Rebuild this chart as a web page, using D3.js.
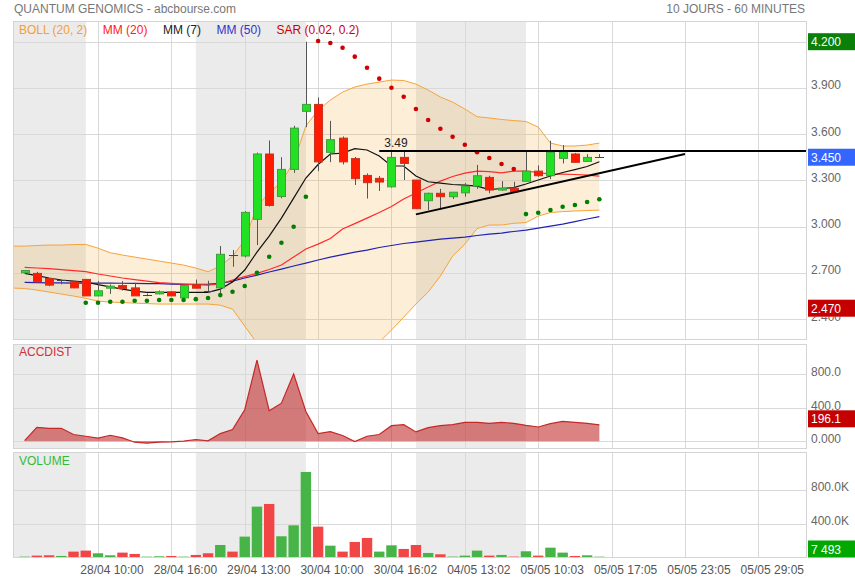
<!DOCTYPE html>
<html><head><meta charset="utf-8">
<script src="https://cdn.jsdelivr.net/npm/d3@7"></script>
<style>body{margin:0;background:#fff;}svg{display:block;}</style>
</head><body><svg id="c" width="855" height="580"></svg>
<script>
// ---------- DATA ----------
const OPEN  = [2.700,2.696,2.663,2.650,2.641,2.657,2.550,2.600,2.617,2.602,2.554,2.563,2.576,2.537,2.624,2.583,2.602,2.813,2.809,3.047,3.471,3.195,3.371,3.748,3.793,3.482,3.574,3.441,3.332,3.313,3.258,3.449,3.302,3.168,3.216,3.194,3.219,3.263,3.319,3.237,3.248,3.294,3.360,3.330,3.443,3.471,3.423,3.450];
const HIGH  = [2.718,2.706,2.665,2.657,2.645,2.660,2.646,2.624,2.646,2.635,2.565,2.585,2.578,2.618,2.656,2.648,2.874,2.848,3.100,3.480,3.559,3.450,3.654,4.200,3.838,3.686,3.585,3.452,3.345,3.328,3.490,3.490,3.302,3.220,3.245,3.225,3.282,3.400,3.330,3.295,3.291,3.486,3.397,3.557,3.529,3.478,3.470,3.470];
const LOW   = [2.695,2.635,2.613,2.625,2.600,2.550,2.548,2.563,2.585,2.550,2.548,2.560,2.548,2.535,2.598,2.568,2.559,2.739,2.800,2.880,3.130,3.184,3.349,3.645,3.360,3.418,3.403,3.270,3.182,3.231,3.253,3.302,3.116,3.107,3.110,3.179,3.194,3.245,3.216,3.232,3.226,3.294,3.323,3.308,3.410,3.417,3.420,3.450];
const CLOSE = [2.715,2.641,2.620,2.650,2.602,2.550,2.583,2.613,2.598,2.550,2.554,2.576,2.550,2.617,2.600,2.583,2.820,2.813,3.092,3.471,3.137,3.371,3.639,3.793,3.420,3.564,3.420,3.311,3.285,3.289,3.449,3.410,3.116,3.216,3.194,3.223,3.263,3.330,3.237,3.250,3.226,3.360,3.330,3.482,3.486,3.417,3.449,3.450];
const VOLUME = [8000,20000,24000,16000,68000,80000,48000,24000,56000,40000,8000,12000,16000,8000,28000,48000,147000,68000,247000,605000,637000,251000,382000,1019000,366000,139000,68000,183000,231000,68000,143000,100000,147000,52000,36000,8000,20000,80000,20000,28000,8000,72000,20000,115000,56000,16000,24000,7493];
const ACCDIST = [6,166,154,154,80,59,36,71,40,-12,-24,-12,-8,0,20,4,91,139,376,970,364,455,803,356,91,115,68,-4,59,80,186,198,111,163,186,198,226,226,214,226,214,190,170,210,237,226,214,196.1];
const MM7  = [2.696,2.682,2.666,2.653,2.646,2.640,2.623,2.609,2.594,2.581,2.573,2.573,2.573,2.573,2.573,2.573,2.594,2.640,2.718,2.834,2.938,3.055,3.185,3.315,3.403,3.471,3.477,3.506,3.497,3.458,3.393,3.393,3.328,3.291,3.282,3.273,3.269,3.263,3.240,3.247,3.253,3.276,3.302,3.328,3.351,3.370,3.390,3.421];
const MM20 = [2.735,2.731,2.727,2.721,2.714,2.707,2.692,2.679,2.666,2.656,2.646,2.636,2.631,2.627,2.623,2.620,2.627,2.653,2.675,2.696,2.721,2.750,2.802,2.854,2.886,2.922,2.984,3.019,3.055,3.091,3.130,3.179,3.218,3.257,3.295,3.325,3.347,3.360,3.357,3.349,3.360,3.360,3.351,3.341,3.341,3.338,3.334,3.328];
const MM50 = [2.638,2.636,2.635,2.634,2.633,2.633,2.633,2.633,2.632,2.631,2.630,2.629,2.627,2.625,2.625,2.627,2.631,2.646,2.666,2.685,2.705,2.724,2.744,2.763,2.783,2.802,2.818,2.834,2.847,2.864,2.877,2.890,2.899,2.909,2.919,2.925,2.932,2.942,2.951,2.958,2.968,2.977,2.990,3.003,3.016,3.032,3.049,3.064];
// Bollinger bands start one period before the first candle (index -1)
const BOLL_UP  = [2.873,2.873,2.877,2.880,2.880,2.883,2.884,2.860,2.830,2.815,2.802,2.789,2.776,2.763,2.750,2.731,2.707,2.744,2.808,2.910,3.133,3.218,3.289,3.419,3.653,3.756,3.821,3.873,3.906,3.925,3.938,3.951,3.948,3.925,3.886,3.841,3.808,3.763,3.713,3.705,3.695,3.688,3.682,3.646,3.542,3.523,3.523,3.529,3.542];
const BOLL_LOW = [2.601,2.598,2.588,2.575,2.562,2.549,2.534,2.516,2.510,2.507,2.503,2.500,2.497,2.497,2.497,2.497,2.497,2.490,2.464,2.354,2.244,2.14,2.05,1.95,1.87,1.82,1.80,1.84,1.92,2.05,2.25,2.328,2.412,2.497,2.575,2.679,2.808,2.886,2.987,3.010,3.010,3.021,3.026,3.068,3.091,3.097,3.101,3.104,3.107];
const SAR = [null,null,null,null,null,2.505,2.505,2.512,2.512,2.518,2.518,2.523,2.523,2.523,2.529,2.536,2.555,2.577,2.614,2.700,2.804,2.895,2.999,3.194,4.205,4.192,4.161,4.103,4.031,3.960,3.901,3.843,3.763,3.692,3.635,3.583,3.531,3.482,3.445,3.406,3.373,3.081,3.090,3.107,3.129,3.140,3.159,3.177];
const SHADED = [[-1,5],[14,23],[32,41]];
const XTICK_IDX = [6,12,18,24,30,36,42,48,54,60];
const XTICK_LABELS = ["28/04 10:00","28/04 16:00","29/04 13:00","30/04 10:00","30/04 16:02","04/05 13:02","05/05 10:03","05/05 17:05","05/05 23:05","05/05 29:05"];
const PRICE_TICKS = [2.4,2.7,3.0,3.3,3.6,3.9,4.2];
const PRICE_TICK_LABELS = ["2.400","2.700","3.000","3.300","3.600","3.900","4.200"];
const ACC_TICKS = [0,400,800];
const ACC_TICK_LABELS = ["0.000","400.0","800.0"];
const VOL_TICKS = [400000,800000];
const VOL_TICK_LABELS = ["400.0K","800.0K"];
const HIGH_MARK = 4.200, LAST_MARK = 3.450, LOW_MARK = 2.470;
const ACC_LAST = 196.1, VOL_LAST = 7493;
const HLINE = {from:29, price:3.49, label:"3.49"};
const TREND = [[32,3.079],[54,3.471]];
const LEGEND = [["BOLL (20, 2)","#f5a030"],["MM (20)","#ff2020"],["MM (7)","#222"],["MM (50)","#3333cc"],["SAR (0.02, 0.2)","#cc0000"]];

// ---------- SETUP ----------
const F = '"Liberation Sans", Arial, Helvetica, sans-serif';
const svg = d3.select('#c').style('font-family', F).style('font-size','12px');
const L = 13.5, R = 806.5;
const PP = {top:21.5, bot:339.5}, PA = {top:344.5, bot:448.5}, PV = {top:452.5, bot:557.5};
const x  = d3.scaleLinear().domain([-0.91, 63.94]).range([L, R]);
const y  = d3.scaleLinear().domain([2.4, 4.2]).range([319, 41.7]);
const ya = d3.scaleLinear().domain([0, 800]).range([441.2, 374.3]);
const yv = d3.scaleLinear().domain([0, 800000]).range([557.3, 490.3]);
const idx = d3.range(OPEN.length);
const GREEN_V = "#46b446", RED_V = "#f24545";

const defs = svg.append('defs');
function clip(id, p){ defs.append('clipPath').attr('id', id).append('rect').attr('x', L).attr('y', p.top).attr('width', R-L).attr('height', p.bot-p.top); }
clip('cp', PP); clip('ca', PA); clip('cv', PV);

function panelBase(p, ticks, ys){
  const g = svg.append('g');
  g.append('rect').attr('x', L).attr('y', p.top).attr('width', R-L).attr('height', p.bot-p.top).attr('fill', '#fff');
  SHADED.forEach(([a,b]) => {
    const x0 = Math.max(L, x(a)), x1 = x(b);
    g.append('rect').attr('x', x0).attr('y', p.top).attr('width', x1-x0).attr('height', p.bot-p.top).attr('fill', '#ebebeb');
  });
  XTICK_IDX.forEach(i => {
    const xx = Math.round(x(i)) + 0.5;
    g.append('line').attr('x1', xx).attr('x2', xx).attr('y1', p.top).attr('y2', p.bot).attr('stroke', '#d9d9d9');
  });
  ticks.forEach(v => {
    const yy = Math.round(ys(v)) + 0.5;
    g.append('line').attr('x1', L).attr('x2', R).attr('y1', yy).attr('y2', yy).attr('stroke', '#d9d9d9');
  });
}
function border(p){
  svg.append('rect').attr('x', L).attr('y', p.top).attr('width', R-L).attr('height', p.bot-p.top)
    .attr('fill', 'none').attr('stroke', '#d4d4d4');
}

// ---------- PRICE PANEL ----------
panelBase(PP, PRICE_TICKS, y);
const gp = svg.append('g').attr('clip-path', 'url(#cp)');
const bidx = d3.range(-1, BOLL_UP.length - 1);
gp.append('path').datum(bidx)
  .attr('d', d3.area().x(i => x(i)).y0(i => y(BOLL_LOW[i+1])).y1(i => y(BOLL_UP[i+1])))
  .attr('fill', 'rgba(245,160,40,0.18)');
[BOLL_UP, BOLL_LOW].forEach(arr => {
  gp.append('path').datum(bidx).attr('d', d3.line().x(i => x(i)).y(i => y(arr[i+1])))
    .attr('fill', 'none').attr('stroke', '#f5a33a').attr('stroke-width', 1);
});
[[MM50,'#2222b0'],[MM20,'#ff2a2a'],[MM7,'#111']].forEach(([arr,col]) => {
  gp.append('path').datum(idx).attr('d', d3.line().x(i => x(i)).y(i => y(arr[i])))
    .attr('fill', 'none').attr('stroke', col).attr('stroke-width', 1.2);
});
// candles
idx.forEach(i => {
  const cx = Math.round(x(i)) + 0.5;
  gp.append('line').attr('x1', cx).attr('x2', cx).attr('y1', y(HIGH[i])).attr('y2', y(LOW[i]))
    .attr('stroke', '#555').attr('stroke-width', 1);
  const o = OPEN[i], c = CLOSE[i];
  if (Math.abs(o - c) < 0.0005) {
    const yy = Math.round(y(o)) + 0.5;
    gp.append('line').attr('x1', cx-4.5).attr('x2', cx+4.5).attr('y1', yy).attr('y2', yy).attr('stroke', '#444');
  } else {
    const up = c > o;
    const y0 = y(Math.max(o,c)), y1 = y(Math.min(o,c));
    gp.append('rect').attr('x', cx-4).attr('y', y0).attr('width', 8).attr('height', Math.max(1, y1-y0))
      .attr('fill', up ? '#22e022' : '#ff1a00').attr('stroke', up ? '#3f9f3f' : '#c8321e').attr('stroke-width', 1);
  }
});
// SAR
idx.filter(i => SAR[i] != null).forEach(i => {
  gp.append('circle').attr('cx', x(i)).attr('cy', y(SAR[i])).attr('r', 2.3)
    .attr('fill', SAR[i] < CLOSE[i] ? '#008000' : '#d00000');
});
// drawn lines
gp.append('line').attr('x1', x(HLINE.from)).attr('x2', R).attr('y1', y(HLINE.price)).attr('y2', y(HLINE.price))
  .attr('stroke', '#000').attr('stroke-width', 2);
gp.append('text').attr('x', x(HLINE.from) + 5).attr('y', y(HLINE.price) - 4.5).attr('fill', '#222').text(HLINE.label);
gp.append('line').attr('x1', x(TREND[0][0])).attr('y1', y(TREND[0][1])).attr('x2', x(TREND[1][0])).attr('y2', y(TREND[1][1]))
  .attr('stroke', '#000').attr('stroke-width', 2);
border(PP);
// legend
let lx = 19;
LEGEND.forEach(([t,col]) => {
  const tx = svg.append('text').attr('x', lx).attr('y', 33.5).attr('fill', col).text(t);
  lx += tx.node().getComputedTextLength() + 15.5;
});

// ---------- ACCDIST PANEL ----------
panelBase(PA, ACC_TICKS, ya);
const ga = svg.append('g').attr('clip-path', 'url(#ca)');
ga.append('path').datum(idx).attr('d', d3.area().x(i => x(i)).y0(ya(0)).y1(i => ya(ACCDIST[i])))
  .attr('fill', 'rgba(190,30,30,0.55)');
ga.append('path').datum(idx).attr('d', d3.line().x(i => x(i)).y(i => ya(ACCDIST[i])))
  .attr('fill', 'none').attr('stroke', '#c62828').attr('stroke-width', 1.2);
border(PA);
svg.append('text').attr('x', 19).attr('y', 356).attr('fill', '#cc3333').text('ACCDIST');

// ---------- VOLUME PANEL ----------
panelBase(PV, VOL_TICKS, yv);
const gv = svg.append('g').attr('clip-path', 'url(#cv)');
idx.forEach(i => {
  const up = i === 0 ? CLOSE[i] >= OPEN[i] : CLOSE[i] >= CLOSE[i-1];
  const top = yv(VOLUME[i]);
  gv.append('rect').attr('x', x(i) - 5.2).attr('y', top).attr('width', 10.4).attr('height', yv(0) - top)
    .attr('fill', up ? GREEN_V : RED_V);
});
border(PV);
svg.append('text').attr('x', 19).attr('y', 465).attr('fill', '#33bb33').text('VOLUME');

// ---------- AXES TEXT ----------
const tcol = '#666';
const BADGE_H = 17;
const priceMarks = [HIGH_MARK, LAST_MARK, LOW_MARK];
PRICE_TICKS.forEach((v,k) => {
  const ty = y(v) + 1.5;
  // tick label hidden entirely behind a badge is not drawn; a partly covered one is clipped to its visible part
  const covering = priceMarks.map(m => y(m)).filter(my => Math.abs(my - y(v)) < BADGE_H);
  if (covering.some(my => Math.abs(my - y(v)) < 3)) return;
  const t = svg.append('text').attr('x', 811).attr('y', ty).attr('fill', tcol).text(PRICE_TICK_LABELS[k]);
  if (covering.length) {
    const my = covering[0];
    const cid = 'tclip' + k;
    const below = y(v) > my;
    defs.append('clipPath').attr('id', cid).append('rect').attr('x', 808)
      .attr('y', below ? my + BADGE_H/2 : y(v) - 14).attr('width', 47)
      .attr('height', below ? 14 : (my - BADGE_H/2) - (y(v) - 14));
    t.attr('clip-path', `url(#${cid})`);
  }
});
ACC_TICKS.forEach((v,k) => svg.append('text').attr('x', 811).attr('y', ya(v) + 2).attr('fill', tcol).text(ACC_TICK_LABELS[k]));
VOL_TICKS.forEach((v,k) => svg.append('text').attr('x', 811).attr('y', yv(v) + 1).attr('fill', tcol).text(VOL_TICK_LABELS[k]));
XTICK_IDX.forEach((i,k) => svg.append('text').attr('x', x(i) + 14).attr('y', 573.5).attr('text-anchor', 'middle').attr('fill', '#555').text(XTICK_LABELS[k]));

function badge(cy, col, txt){
  svg.append('rect').attr('x', 808).attr('y', cy - BADGE_H/2).attr('width', 47).attr('height', BADGE_H).attr('fill', col);
  svg.append('text').attr('x', 811).attr('y', cy + 4.5).attr('fill', '#fff').text(txt);
}
badge(y(HIGH_MARK), '#0a7f0a', d3.format('.3f')(HIGH_MARK));
badge(y(LAST_MARK), '#3366ff', d3.format('.3f')(LAST_MARK));
badge(y(LOW_MARK), '#c40000', d3.format('.3f')(LOW_MARK));
badge(ya(ACC_LAST) - 6, '#c40000', ACC_LAST.toFixed(1));
badge(Math.min(yv(VOL_LAST), PV.bot - BADGE_H/2), '#00a800', d3.format(',')(VOL_LAST).replace(/,/g, ' '));

// ---------- HEADER ----------
svg.append('text').attr('x', 14).attr('y', 12.5).attr('fill', '#777').text('QUANTUM GENOMICS - abcbourse.com');
svg.append('text').attr('x', 805).attr('y', 12.5).attr('text-anchor', 'end').attr('fill', '#777').text('10 JOURS - 60 MINUTES');
</script></body></html>
